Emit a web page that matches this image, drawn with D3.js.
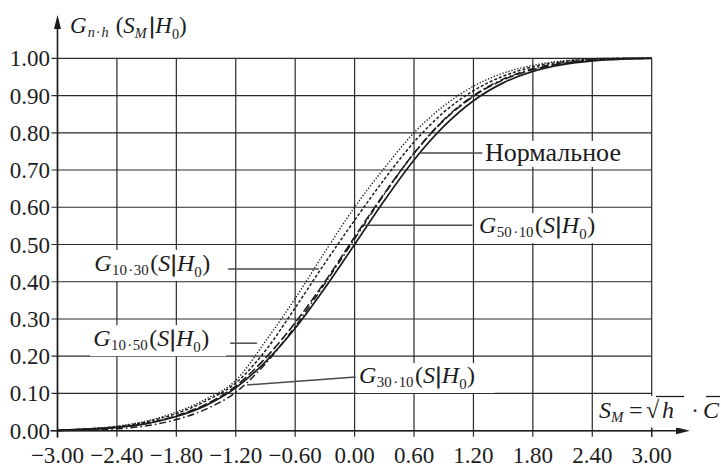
<!DOCTYPE html>
<html>
<head>
<meta charset="utf-8">
<script src="https://cdn.jsdelivr.net/npm/d3@7"></script>
</head>
<body style="margin:0;background:#fff">
<svg id="chart" width="721" height="467" style="display:block"></svg>
<script>
// Argument values S_M at which the distribution functions are tabulated
const sValues = [-3.0, -2.7, -2.4, -2.1, -1.8, -1.5, -1.2, -0.9, -0.6, -0.3, 0.0,
                 0.3, 0.6, 0.9, 1.2, 1.5, 1.8, 2.1, 2.4, 2.7, 3.0];

// Normal distribution function
const normalG = [0.001, 0.004, 0.009, 0.019, 0.038, 0.068, 0.115, 0.185, 0.275, 0.383, 0.500,
                 0.618, 0.727, 0.817, 0.886, 0.934, 0.965, 0.983, 0.993, 0.998, 1.000];
// G 50·10 (S|H0)
const g50x10 = [0.001, 0.004, 0.009, 0.020, 0.040, 0.071, 0.120, 0.195, 0.290, 0.400, 0.520,
                0.637, 0.745, 0.833, 0.898, 0.942, 0.970, 0.986, 0.995, 0.999, 1.000];
// G 10·30 (S|H0)
const g10x30 = [0.001, 0.005, 0.012, 0.026, 0.050, 0.085, 0.135, 0.240, 0.355, 0.480, 0.600,
                0.705, 0.800, 0.872, 0.925, 0.960, 0.981, 0.993, 0.999, 1.000, 1.000];
// G 10·50 (S|H0)
const g10x50 = [0.001, 0.005, 0.011, 0.024, 0.046, 0.080, 0.128, 0.215, 0.330, 0.450, 0.565,
                0.675, 0.775, 0.855, 0.913, 0.952, 0.977, 0.991, 0.998, 1.000, 1.000];
// G 30·10 (S|H0)
const g30x10 = [0.000, 0.002, 0.005, 0.013, 0.030, 0.058, 0.103, 0.180, 0.280, 0.395, 0.515,
                0.635, 0.745, 0.835, 0.900, 0.944, 0.972, 0.988, 0.996, 0.999, 1.000];

// Tick values of both axes
const xTicks = [-3.0, -2.4, -1.8, -1.2, -0.6, 0.0, 0.6, 1.2, 1.8, 2.4, 3.0];
const yTicks = [0.0, 0.1, 0.2, 0.3, 0.4, 0.5, 0.6, 0.7, 0.8, 0.9, 1.0];

const faceParts = ["Liberation", "Serif"];
const SERIF = `"${faceParts.join(" ")}"`;
const svg = d3.select("#chart");
const ink = "#1c1c1c";

const x = d3.scaleLinear().domain([-3, 3]).range([57.5, 651.7]);
const y = d3.scaleLinear().domain([0, 1]).range([430.7, 58.3]);

// ---- grid ----
const grid = svg.append("g").attr("stroke", "#2a2a2a").attr("stroke-width", 1.2);
grid.selectAll("line.v").data(xTicks).join("line")
  .attr("class", "v")
  .attr("x1", d => x(d)).attr("x2", d => x(d))
  .attr("y1", y(0) + 6).attr("y2", y(1));
grid.selectAll("line.h").data(yTicks).join("line")
  .attr("class", "h")
  .attr("x1", x(-3) - 6).attr("x2", x(3))
  .attr("y1", d => y(d)).attr("y2", d => y(d));

// ---- curves ----
const series = [
  { name: "normal", values: normalG, dash: null,          width: 1.7 },
  { name: "g50x10", values: g50x10,  dash: "9,3",         width: 1.6 },
  { name: "g30x10", values: g30x10,  dash: "7,3,1.6,3",   width: 1.5 },
  { name: "g10x50", values: g10x50,  dash: "3,2",         width: 1.5 },
  { name: "g10x30", values: g10x30,  dash: "1.3,1.8",     width: 1.4 }
];
const line = d3.line()
  .x(d => x(d[0]))
  .y(d => y(d[1]))
  .curve(d3.curveMonotoneX);
svg.append("g").selectAll("path").data(series).join("path")
  .attr("fill", "none")
  .attr("stroke", ink)
  .attr("stroke-width", s => s.width)
  .attr("stroke-dasharray", s => s.dash)
  .attr("d", s => line(sValues.map((v, i) => [v, s.values[i]])));

// ---- axes ----
const axes = svg.append("g").attr("stroke", ink).attr("stroke-width", 1.6);
axes.append("line").attr("x1", x(-3)).attr("x2", x(-3)).attr("y1", y(0) + 7).attr("y2", 26);
axes.append("line").attr("x1", x(-3) - 7).attr("x2", 680).attr("y1", y(0)).attr("y2", y(0));
svg.append("path").attr("fill", ink)
  .attr("d", `M${x(-3)},15 L${x(-3) - 3.5},29 L${x(-3) + 3.5},29 Z`);
svg.append("path").attr("fill", ink)
  .attr("d", `M690,${y(0)} L676,${y(0) - 3.5} L676,${y(0) + 3.5} Z`);

// Tick labels
const fmt = d3.format(".2f");
svg.append("g").selectAll("text").data(yTicks).join("text")
  .attr("x", 50).attr("y", d => y(d) + 8)
  .attr("text-anchor", "end")
  .attr("font-size", 23).attr("fill", ink)
  .style("font-family", SERIF)
  .text(d => fmt(d));
svg.append("g").selectAll("text").data(xTicks).join("text")
  .attr("x", d => x(d)).attr("y", 463)
  .attr("text-anchor", "middle")
  .attr("font-size", 23).attr("fill", ink)
  .style("font-family", SERIF)
  .text(d => fmt(d));

// ---- formula text: pieces flow one after another ----
// piece: t = text, dx = extra gap, s = baseline level, z = size factor, i = italic
function formula(parent, x0, y0, size, pieces) {
  const t = parent.append("text").attr("x", x0).attr("y", y0).attr("fill", ink)
    .style("font-family", SERIF).attr("font-size", size);
  let level = 0;
  pieces.forEach(p => {
    const s = p.s || 0;
    const ts = t.append("tspan")
      .attr("dx", p.dx || 0)
      .attr("dy", s - level)
      .attr("font-size", size * (p.z || 1))
      .attr("font-style", p.i ? "italic" : "normal")
      .style("font-family", SERIF)
      .text(p.t);
    level = s;
    if (p.bold) ts.attr("stroke", ink).attr("stroke-width", 0.9);
  });
  return t;
}
const sub = 0.62;
function gPieces(n, h) {
  return [
    { t: "G", i: true },
    { t: n, s: 4, z: sub, dx: 0.5 },
    { t: "·", s: 4, z: sub, dx: 1.5 },
    { t: h, s: 4, z: sub, dx: 0.5 },
    { t: "(", dx: 1.5 },
    { t: "S", i: true },
    { t: "|", dx: 1, bold: true },
    { t: "H", dx: 1, i: true },
    { t: "0", s: 6, z: sub },
    { t: ")", dx: 0.5 }
  ];
}

// ---- annotations: leader lines with labels on white ----
const notes = svg.append("g");
const leader = (x1, y1, x2, y2) => notes.append("line")
  .attr("x1", x1).attr("y1", y1).attr("x2", x2).attr("y2", y2)
  .attr("stroke", "#4a4a4a").attr("stroke-width", 1.5);
const paper = (x0, y0, w, h) => notes.append("rect")
  .attr("x", x0).attr("y", y0).attr("width", w).attr("height", h).attr("fill", "#fff");

// Нормальное
leader(x(0.67), y(0.746), x(1.29), y(0.746));
paper(x(1.29) + 1, y(0.746) - 12, 146, 26);
formula(notes, x(1.316), y(0.725), 26, [{ t: "Нормальное" }]);

// G 50·10
leader(x(0.095), y(0.552), x(1.19), y(0.552));
paper(x(1.19) + 3, y(0.552) - 12, 138, 30);
formula(notes, x(1.256), y(0.531), 24, gPieces("50", "10"));

// G 10·30
paper(x(-2.63) - 3, y(0.429) - 21, 136, 31);
formula(notes, x(-2.63), y(0.429), 24, gPieces("10", "30"));
leader(x(-2.63) + 134, y(0.434), x(-0.36), y(0.434));

// G 10·50
paper(x(-2.64) - 3, y(0.227) - 21, 136, 31);
formula(notes, x(-2.64), y(0.227), 24, gPieces("10", "50"));
leader(x(-2.64) + 137, y(0.235), x(-0.986), y(0.235));

// G 30·10
leader(x(-1.086), y(0.123), x(0.01), y(0.144));
paper(x(0.044) - 2, y(0.128) - 20, 138, 30);
formula(notes, x(0.044), y(0.128), 24, gPieces("30", "10"));

// ---- axis titles ----
// vertical axis: G n·h (S_M | H_0)
formula(svg, 70, 33, 23, [
  { t: "G", i: true },
  { t: "n", s: 4, z: sub, i: true, dx: 1 },
  { t: "·", s: 4, z: sub, dx: 1 },
  { t: "h", s: 4, z: sub, i: true, dx: 1 },
  { t: "(", dx: 7 },
  { t: "S", i: true },
  { t: "M", s: 5, z: sub, i: true },
  { t: "|", dx: 3, bold: true },
  { t: "H", dx: 1, i: true },
  { t: "0", s: 6, z: sub },
  { t: ")" }
]);

// horizontal axis: S_M = √h · C̄
svg.append("rect").attr("x", 597).attr("y", 396).attr("width", 124).attr("height", y(0) - 399).attr("fill", "#fff");
svg.append("line").attr("x1", x(3)).attr("x2", x(3)).attr("y1", y(0) - 3).attr("y2", y(0) + 6)
  .attr("stroke", ink).attr("stroke-width", 1.2);
const axisLabel = svg.append("g");
formula(axisLabel, 599, 418, 24, [
  { t: "S", i: true },
  { t: "M", s: 4, z: sub, i: true }
]);
formula(axisLabel, 629, 418, 24, [{ t: "=" }]);
formula(axisLabel, 646, 418, 24, [{ t: "√" }]);
formula(axisLabel, 662, 418, 24, [{ t: "h", i: true }]);
formula(axisLabel, 691, 418, 24, [{ t: "·" }]);
formula(axisLabel, 703, 418, 24, [{ t: "C", i: true }]);
svg.append("line").attr("x1", 656).attr("x2", 684).attr("y1", 396.5).attr("y2", 396.5)
  .attr("stroke", ink).attr("stroke-width", 1.3);
svg.append("line").attr("x1", 706).attr("x2", 720).attr("y1", 396.5).attr("y2", 396.5)
  .attr("stroke", ink).attr("stroke-width", 1.3);
</script>
</body>
</html>
